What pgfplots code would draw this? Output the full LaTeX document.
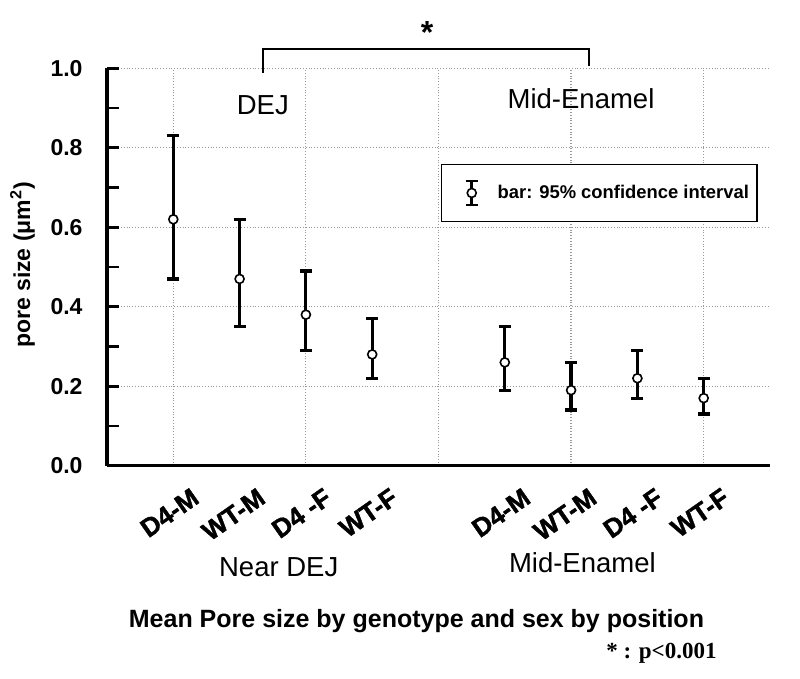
\documentclass[border=0pt]{standalone}
\usepackage{pgfplots}
\pgfplotsset{compat=1.18}
\usepackage{pgfplotstable}
\usepackage{fontspec}
\setmainfont{Liberation Sans}
\newfontfamily\serifb{Liberation Serif}
\newfontfamily\heavyfont[FakeBold=1.5]{Liberation Sans}

\pgfplotstableread{
x y ep em
1 0.62 0.21 0.15
2 0.47 0.15 0.12
3 0.38 0.11 0.09
4 0.28 0.09 0.06
6 0.26 0.09 0.07
7 0.19 0.07 0.05
8 0.22 0.07 0.05
9 0.17 0.05 0.04
}\data

\begin{document}
\begin{tikzpicture}
\useasboundingbox (-53.5pt,-106.65pt) rectangle (346.5pt,232.85pt);
\begin{axis}[
  at={(0,0)}, anchor=south west,
  scale only axis,
  width=331.5pt, height=198.7pt,
  xmin=0, xmax=10, ymin=0, ymax=1.0,
  clip=false,
  axis x line=bottom, axis y line=left,
  axis line style={-, line width=1.6pt, black},
  tick align=inside,
  major tick length=6pt, minor tick length=6pt,
  ytick={0,0.2,0.4,0.6,0.8,1.0},
  minor ytick={0.1,0.3,0.5,0.7,0.9},
  ytick style={line width=1.3pt, black},
  xtick={1,3,5,7,9},
  xticklabels={,,,,},
  xtick style={draw=none},
  grid=major,
  major grid style={densely dotted, gray!80, line width=0.6pt},
  extra x ticks={1,2,3,4,6,7,8,9},
  extra x tick labels={D4-M,WT-M,D4 -F,WT-F,D4-M,WT-M,D4 -F,WT-F},
  extra x tick style={grid=none, tick style={draw=none},
    tick label style={rotate=35, anchor=north east, inner sep=0pt, yshift=-13.5pt, xshift=1pt,
      font=\heavyfont\bfseries\fontsize{13}{15}\selectfont}},
  yticklabel style={font=\bfseries\fontsize{11.5}{13}\selectfont, xshift=-8.7pt},
  /pgf/number format/.cd, fixed, fixed zerofill, precision=1, assume math mode=true,
  /pgfplots/.cd,
  ylabel={pore size (μm\textsuperscript{2})},
  every axis y label/.style={at={(axis description cs:-0.1275,0.505)}, rotate=90, anchor=center,
    font=\bfseries\fontsize{11.5}{13}\selectfont},
  legend style={at={(axis cs:5.04,0.759)}, anchor=north west, draw=black, line width=0.6pt,
    inner xsep=2pt, inner ysep=7.5pt, font=\bfseries\fontsize{9.2}{11}\selectfont},
]
\addplot[only marks, mark=*, mark size=2.25pt,
  mark options={fill=white, draw=black, line width=0.8pt},
  error bars/.cd, y dir=both, y explicit,
  error bar style={line width=1.6pt, draw=black},
  error mark options={rotate=90, mark size=3pt, line width=1.6pt, draw=black},
  /pgfplots/legend image code/.code={
    \draw[black, line width=1.3pt] (13pt,-6pt) -- (13pt,6pt);
    \draw[black, line width=1.3pt] (10pt,-6pt) -- (16pt,-6pt);
    \draw[black, line width=1.3pt] (10pt,6pt) -- (16pt,6pt);
    \draw[black, fill=white, line width=0.8pt] (13pt,0) circle (2.25pt);
    \path[draw=none] (0pt,0) -- (24pt,0);
  }]
  table[x=x, y=y, y error plus=ep, y error minus=em] {\data};
\addlegendentry{bar: 95\% confidence interval}

\node[font=\fontsize{13.75}{16}\selectfont, anchor=base] at (axis cs:2.35,0.8825) {DEJ};
\node[font=\fontsize{13.75}{16}\selectfont, anchor=base] at (axis cs:7.15,0.8976) {Mid-Enamel};
\node[font=\fontsize{13.75}{16}\selectfont, anchor=base] at (axis cs:2.59,-0.2776) {Near DEJ};
\node[font=\fontsize{13.75}{16}\selectfont, anchor=base] at (axis cs:7.17,-0.2692) {Mid-Enamel};
\node[font=\bfseries\fontsize{12.5}{15}\selectfont, anchor=base] at (axis cs:4.668,-0.406) {Mean Pore size by genotype and sex by position};
\node[font=\serifb\bfseries\fontsize{11.5}{14}\selectfont, anchor=base east, inner sep=0pt] at (axis cs:9.2,-0.484) {* : p<0.001};
\node[font=\bfseries\fontsize{16}{18}\selectfont] at (axis cs:4.827,1.091) {*};
\draw[black, line width=1pt] (axis cs:2.35,0.988) |- (axis cs:7.27,1.049) -- (axis cs:7.27,1.006);
\end{axis}
\end{tikzpicture}
\end{document}
